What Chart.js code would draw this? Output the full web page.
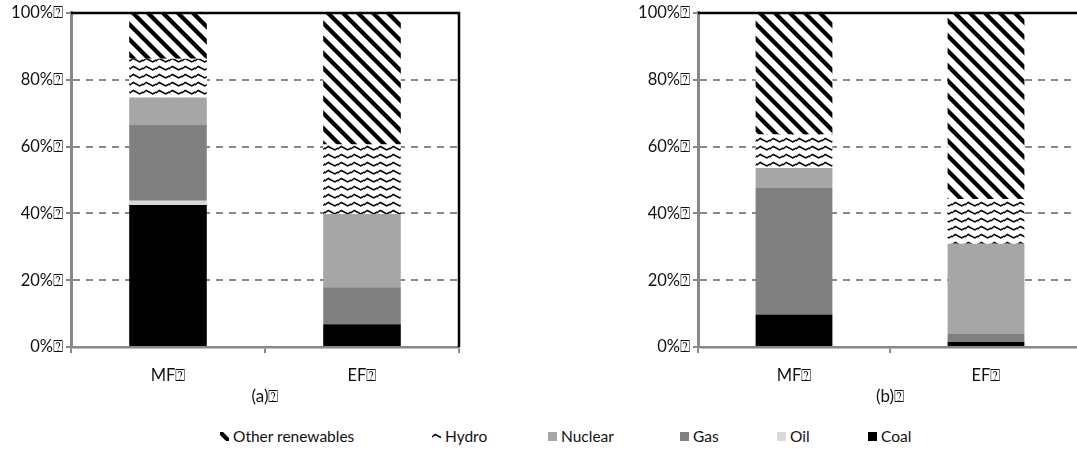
<!DOCTYPE html>
<html>
<head>
<meta charset="utf-8">
<script src="https://cdn.jsdelivr.net/npm/chart.js@4.4.0/dist/chart.umd.min.js"></script>
<style>
  body { margin: 0; width: 1077px; height: 450px; overflow: hidden; background: #fff; position: relative; font-family: Lato, sans-serif; }
  #chartA { position: absolute; left: 0; top: 0; }
  #chartB { position: absolute; left: 627px; top: 0; }
  #legend { position: absolute; top: 427px; left: 220px; display: flex; align-items: center; font-size: 15.5px; color: #111; }
  #legend .item { display: flex; align-items: center; }
  #legend .item:nth-child(1) { width: 212px; }
  #legend .item:nth-child(2) { width: 116px; }
  #legend .item:nth-child(3) { width: 132px; }
  #legend .item:nth-child(4) { width: 97px; }
  #legend .item:nth-child(5) { width: 91px; }
  #legend canvas { margin-right: 4px; }
</style>
</head>
<body>
<canvas id="chartA" width="462" height="410"></canvas>
<canvas id="chartB" width="458" height="410"></canvas>
<div id="legend"></div>
<script>
// categories and series, bottom of the stack first
const categories = ['MF\u2370', 'EF\u2370'];
const seriesNames = ['Coal', 'Oil', 'Gas', 'Nuclear', 'Hydro', 'Other renewables'];
const yTicks = [0, 20, 40, 60, 80, 100];

// panel (a)
const coalA    = [42.5, 6.8];
const oilA     = [1.3, 0];
const gasA     = [22.8, 11.1];
const nuclearA = [8.1, 21.9];
const hydroA   = [11.6, 20.8];
const otherA   = [13.7, 39.4];

// panel (b)
const coalB    = [9.7, 1.5];
const oilB     = [0, 0];
const gasB     = [37.9, 2.4];
const nuclearB = [6.0, 27.0];
const hydroB   = [10.0, 13.4];
const otherB   = [36.4, 55.7];

function stripePattern() {
    const s = 15;
    const c = document.createElement('canvas');
    c.width = s; c.height = s;
    const g = c.getContext('2d');
    g.fillStyle = '#fff';
    g.fillRect(0, 0, s, s);
    g.strokeStyle = '#000';
    g.lineWidth = 4.2;
    [-s, 0, s].forEach(function(o) {
        g.beginPath();
        g.moveTo(o - s, -s);
        g.lineTo(o + 2 * s, 2 * s);
        g.stroke();
    });
    return g.createPattern(c, 'repeat');
}

function wavePattern() {
    const w = 13, h = 8;
    const c = document.createElement('canvas');
    c.width = w; c.height = h;
    const g = c.getContext('2d');
    g.fillStyle = '#fff';
    g.fillRect(0, 0, w, h);
    g.strokeStyle = '#000';
    g.lineWidth = 1.5;
    g.beginPath();
    g.moveTo(-1, 5.5);
    g.lineTo(w / 4, 2.5);
    g.lineTo(3 * w / 4, 6);
    g.lineTo(w + 1, 3.5);
    g.stroke();
    return g.createPattern(c, 'repeat');
}

const fills = ['#000000', '#d9d9d9', '#808080', '#a6a6a6', wavePattern(), stripePattern()];

const frame = {
    id: 'frame',
    afterDraw(chart) {
        const a = chart.chartArea, ctx = chart.ctx;
        ctx.save();
        ctx.strokeStyle = '#000';
        ctx.lineWidth = 2.5;
        ctx.beginPath();
        ctx.moveTo(a.left, a.top);
        ctx.lineTo(a.right, a.top);
        ctx.lineTo(a.right, a.bottom);
        ctx.stroke();
        ctx.restore();
    }
};

function makeChart(id, title, series) {
    return new Chart(document.getElementById(id), {
        type: 'bar',
        data: {
            labels: categories,
            datasets: seriesNames.map(function(name, i) {
                return {
                    label: name,
                    data: series[i],
                    backgroundColor: fills[i],
                    borderWidth: 0,
                    barPercentage: 0.4,
                    categoryPercentage: 1
                };
            })
        },
        options: {
            responsive: false,
            animation: false,
            layout: { padding: { top: 10, right: 3, left: 0, bottom: 0 } },
            plugins: { legend: { display: false }, tooltip: { enabled: false } },
            scales: {
                x: {
                    stacked: true,
                    afterFit(axis) { axis.height = 63; },
                    grid: { offset: true, drawOnChartArea: false, drawTicks: true, tickLength: 6, color: '#888', lineWidth: 2 },
                    border: { color: '#888', width: 2.5 },
                    ticks: { color: '#111', font: { family: 'Lato', size: 16.5 }, padding: 13 },
                    title: { display: true, text: title, color: '#111', font: { family: 'Lato', size: 17 }, padding: { top: 0, bottom: 3 } }
                },
                y: {
                    stacked: true,
                    min: 0,
                    max: 100,
                    afterFit(axis) { axis.width = 71; },
                    afterBuildTicks(axis) { axis.ticks = yTicks.map(function(v) { return { value: v }; }); },
                    grid: { color: '#888', lineWidth: 2, tickLength: 5, tickColor: '#888', tickBorderDash: [] },
                    border: { color: '#888', width: 3, dash: [7, 6] },
                    ticks: {
                        color: '#111',
                        font: { family: 'Lato', size: 16.5 },
                        padding: 3,
                        callback: function(v) { return v + '%\u2370'; }
                    }
                }
            }
        },
        plugins: [frame]
    });
}

makeChart('chartA', '(a)\u2370', [coalA, oilA, gasA, nuclearA, hydroA, otherA]);
makeChart('chartB', '(b)\u2370', [coalB, oilB, gasB, nuclearB, hydroB, otherB]);

// shared legend, listed top of the stack first
const legend = document.getElementById('legend');
seriesNames.slice().reverse().forEach(function(name) {
    const i = seriesNames.indexOf(name);
    const item = document.createElement('div');
    item.className = 'item';
    const sw = document.createElement('canvas');
    sw.width = 9; sw.height = 9;
    const g = sw.getContext('2d');
    g.fillStyle = fills[i];
    g.fillRect(0, 0, 9, 9);
    item.appendChild(sw);
    const t = document.createElement('span');
    t.textContent = name;
    item.appendChild(t);
    legend.appendChild(item);
});
</script>
</body>
</html>
